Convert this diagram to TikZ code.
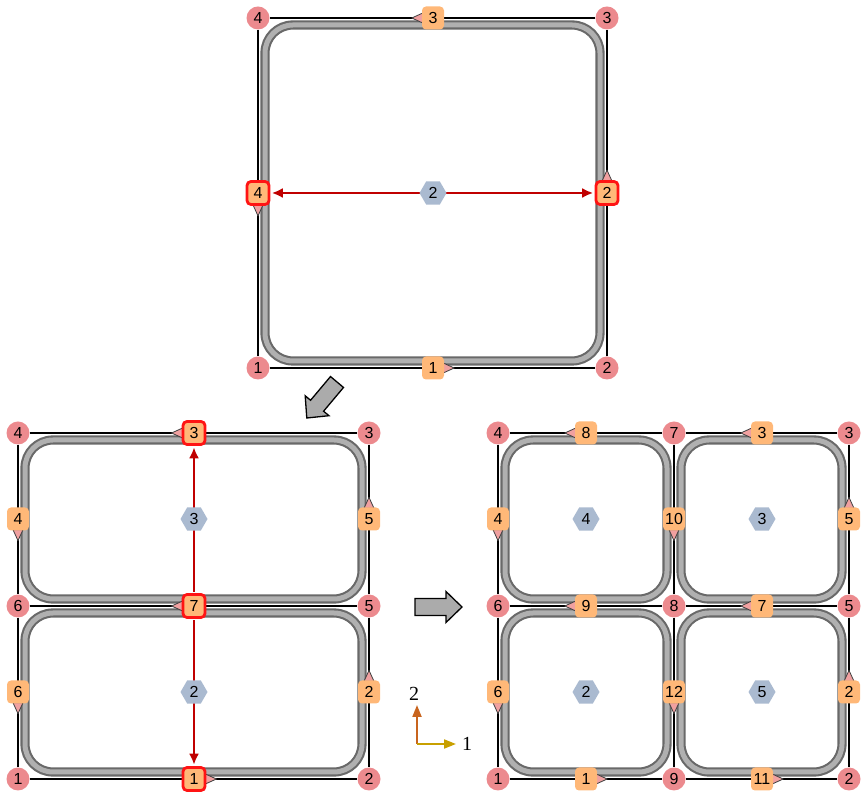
\documentclass[tikz,border=0pt]{standalone}
\usepackage{fontspec}
\usetikzlibrary{shapes.geometric,arrows.meta}
\newfontfamily\labfam{Liberation Sans}
\newfontfamily\legfam{Liberation Serif}
\newcommand\labfont{\labfam\fontsize{16pt}{16pt}\selectfont}
\newcommand\legfont{\legfam\fontsize{20pt}{20pt}\selectfont}
\definecolor{vcol}{RGB}{236,138,142}
\definecolor{ecol}{RGB}{255,184,120}
\definecolor{hcol}{RGB}{170,186,208}
\definecolor{hlred}{RGB}{255,20,20}
\definecolor{darr}{RGB}{192,0,0}
\definecolor{tricol}{RGB}{240,160,160}
\definecolor{tubedark}{RGB}{105,105,105}
\definecolor{tubelight}{RGB}{176,176,176}
\definecolor{ax2col}{RGB}{200,100,30}
\definecolor{ax1col}{RGB}{200,160,0}
\pgfdeclarelayer{bg}
\pgfsetlayers{bg,main}
\tikzset{
  vtx/.style={circle, fill=vcol, minimum size=23pt, inner sep=0pt, font=\labfont},
  elab/.style={rectangle, rounded corners=4pt, fill=ecol, minimum width=22pt, minimum height=23pt, inner sep=2pt, font=\labfont},
  ehl/.style={elab, draw=hlred, line width=2.8pt},
  fhex/.style={regular polygon, regular polygon sides=6, fill=hcol, minimum size=27pt, inner sep=0pt, font=\labfont},
  edgeline/.style={draw=black, line width=2pt},
  tube/.style={draw=tubedark, line width=2.1pt, double=tubelight, double distance=5pt, rounded corners=28pt},
  redline/.style={draw=darr, line width=2.5pt, shorten >=1.4pt, shorten <=1.4pt},
  rtip/.tip={Latex[length=11pt,width=10pt]},
  trimark/.style={fill=tricol, draw=black!75, line width=0.8pt, line join=round},
  tri/.pic={\draw[trimark] (-1,-5) -- (10,0) -- (-1,5) -- cycle;},
  bigarr/.style={fill=black!33, draw=black, line width=1.3pt, line join=miter},
  bigarrow/.pic={\draw[bigarr] (0,-8.5) -- (31,-8.5) -- (31,-15.5) -- (47,0) -- (31,15.5) -- (31,8.5) -- (0,8.5) -- cycle;},
  leg/.style={font=\legfont, inner sep=1pt},
  axarrow/.style={line width=2pt, -{Triangle[length=12pt,width=9pt]}}
}
\begin{document}
\begin{tikzpicture}[x=1pt,y=1pt]
\useasboundingbox (0,0) rectangle (862,795);
% ---------- top ----------
\node[vtx] (t1) at (258,427) {1};
\node[vtx] (t2) at (607,427) {2};
\node[vtx] (t3) at (607,777) {3};
\node[vtx] (t4) at (258,777) {4};
\node[elab] (te1) at (433,427) {1};
\node[ehl] (te2) at (607,602) {2};
\node[elab] (te3) at (433,777) {3};
\node[ehl] (te4) at (258,602) {4};
\node[fhex] (tf2) at (433,602) {2};
% ---------- bottom left ----------
\node[vtx] (b4) at (18,362) {4};
\node[vtx] (b3) at (369,362) {3};
\node[vtx] (b6) at (18,189) {6};
\node[vtx] (b5) at (369,189) {5};
\node[vtx] (b1) at (18,16) {1};
\node[vtx] (b2) at (369,16) {2};
\node[ehl] (be3) at (194,362) {3};
\node[elab] (be4) at (18,276) {4};
\node[elab] (be5) at (369,276) {5};
\node[ehl] (be7) at (194,189) {7};
\node[elab] (be6) at (18,103) {6};
\node[elab] (be2) at (369,103) {2};
\node[ehl] (be1) at (194,16) {1};
\node[fhex] (bf3) at (194,276) {3};
\node[fhex] (bf2) at (194,103) {2};
% ---------- bottom right ----------
\node[vtx] (r4) at (498,362) {4};
\node[vtx] (r7) at (674,362) {7};
\node[vtx] (r3) at (849,362) {3};
\node[vtx] (r6) at (498,189) {6};
\node[vtx] (r8) at (674,189) {8};
\node[vtx] (r5) at (849,189) {5};
\node[vtx] (r1) at (498,16) {1};
\node[vtx] (r9) at (674,16) {9};
\node[vtx] (r2) at (849,16) {2};
\node[elab] (re8) at (586,362) {8};
\node[elab] (re3) at (762,362) {3};
\node[elab] (re4) at (498,276) {4};
\node[elab] (re10) at (674,276) {10};
\node[elab] (re5) at (849,276) {5};
\node[elab] (re9) at (586,189) {9};
\node[elab] (re7) at (762,189) {7};
\node[elab] (re6) at (498,103) {6};
\node[elab] (re12) at (674,103) {12};
\node[elab] (re2) at (849,103) {2};
\node[elab] (re1) at (586,16) {1};
\node[elab] (re11) at (762,16) {11};
\node[fhex] (rf4) at (586,276) {4};
\node[fhex] (rf3) at (762,276) {3};
\node[fhex] (rf2) at (586,103) {2};
\node[fhex] (rf5) at (762,103) {5};
% ---------- legend ----------
\coordinate (o) at (417,51);
\coordinate (ax2) at (417,90);
\coordinate (ax1) at (456,51);
\node[leg] (l2) at (414,101) {2};
\node[leg] (l1) at (467,51) {1};
\draw[axarrow, ax2col] (o) -- (ax2);
\draw[axarrow, ax1col] (o) -- (ax1);
% ---------- big arrows ----------
\pic[rotate=230] at (337,413) {bigarrow};
\pic at (415,188) {bigarrow};
% ---------- background ----------
\begin{pgfonlayer}{bg}
  % edges
  \draw[edgeline] (t1) -- (t2);
  \draw[edgeline] (t2) -- (t3);
  \draw[edgeline] (t3) -- (t4);
  \draw[edgeline] (t4) -- (t1);
  \draw[edgeline] (b4) -- (b3);
  \draw[edgeline] (b6) -- (b5);
  \draw[edgeline] (b1) -- (b2);
  \draw[edgeline] (b4) -- (b6);
  \draw[edgeline] (b6) -- (b1);
  \draw[edgeline] (b3) -- (b5);
  \draw[edgeline] (b5) -- (b2);
  \draw[edgeline] (r4) -- (r7);
  \draw[edgeline] (r7) -- (r3);
  \draw[edgeline] (r6) -- (r8);
  \draw[edgeline] (r8) -- (r5);
  \draw[edgeline] (r1) -- (r9);
  \draw[edgeline] (r9) -- (r2);
  \draw[edgeline] (r4) -- (r6);
  \draw[edgeline] (r6) -- (r1);
  \draw[edgeline] (r7) -- (r8);
  \draw[edgeline] (r8) -- (r9);
  \draw[edgeline] (r3) -- (r5);
  \draw[edgeline] (r5) -- (r2);
  % tubes
  \draw[tube] (265,434) rectangle (600,770);
  \draw[tube] (25,196) rectangle (362,355);
  \draw[tube] (25,23) rectangle (362,182);
  \draw[tube] (505,196) rectangle (667,355);
  \draw[tube] (681,196) rectangle (842,355);
  \draw[tube] (505,23) rectangle (667,182);
  \draw[tube] (681,23) rectangle (842,182);
  % red arrows
  \draw[redline, {rtip}-{rtip}] (te4) -- (te2);
  \draw[redline, -{rtip}] (be7) -- (be3);
  \draw[redline, -{rtip}] (be7) -- (be1);
  % orientation triangles
  \pic at (te1.east) {tri};
  \pic[rotate=90] at (te2.north) {tri};
  \pic[rotate=180] at (te3.west) {tri};
  \pic[rotate=-90] at (te4.south) {tri};
  \pic[rotate=180] at (be3.west) {tri};
  \pic[rotate=-90] at (be4.south) {tri};
  \pic[rotate=90] at (be5.north) {tri};
  \pic[rotate=180] at (be7.west) {tri};
  \pic[rotate=-90] at (be6.south) {tri};
  \pic[rotate=90] at (be2.north) {tri};
  \pic at (be1.east) {tri};
  \pic[rotate=180] at (re8.west) {tri};
  \pic[rotate=180] at (re3.west) {tri};
  \pic[rotate=-90] at (re4.south) {tri};
  \pic[rotate=-90] at (re10.south) {tri};
  \pic[rotate=90] at (re5.north) {tri};
  \pic[rotate=180] at (re9.west) {tri};
  \pic[rotate=180] at (re7.west) {tri};
  \pic[rotate=-90] at (re6.south) {tri};
  \pic[rotate=-90] at (re12.south) {tri};
  \pic[rotate=90] at (re2.north) {tri};
  \pic at (re1.east) {tri};
  \pic at (re11.east) {tri};
\end{pgfonlayer}
\end{tikzpicture}
\end{document}
